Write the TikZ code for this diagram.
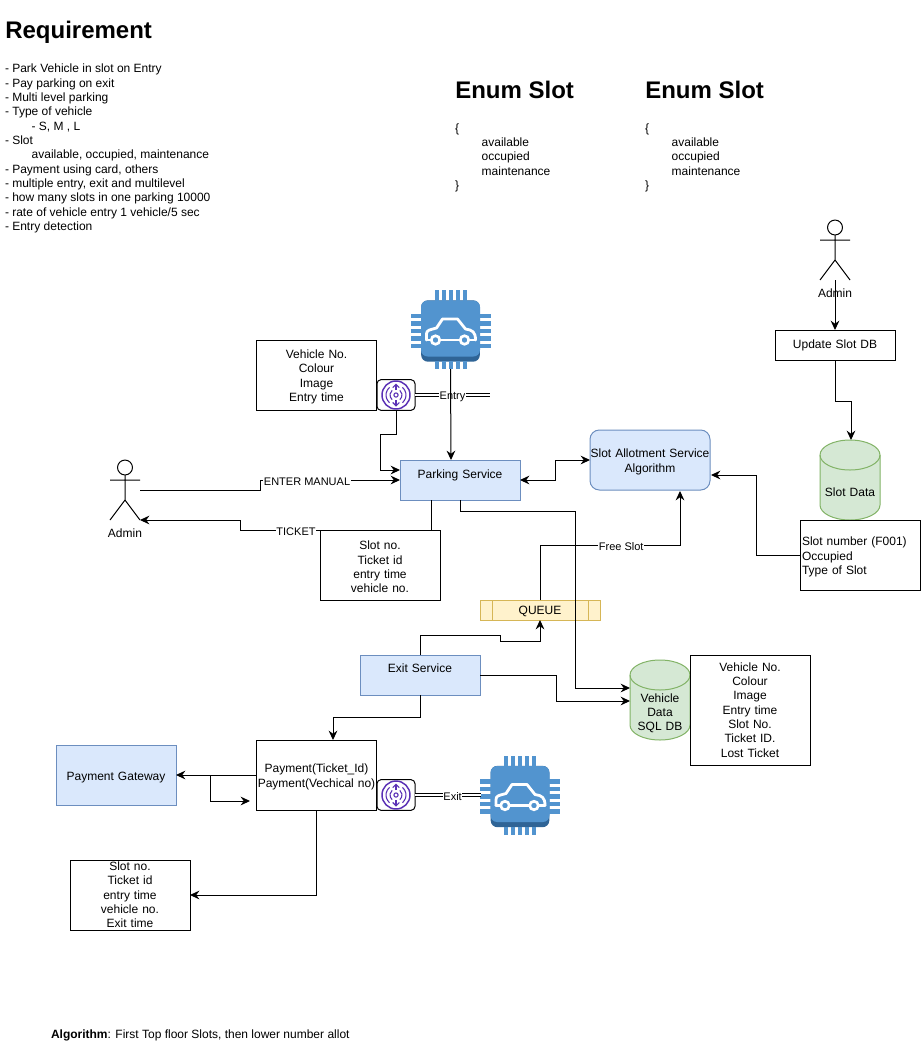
\documentclass[tikz,border=0pt]{standalone}
\usepackage{fontspec}
\setmainfont{Liberation Sans}
\usetikzlibrary{arrows.meta,calc}
\definecolor{bluefill}{HTML}{DAE8FC}
\definecolor{blueline}{HTML}{6C8EBF}
\definecolor{greenfill}{HTML}{D5E8D4}
\definecolor{greenline}{HTML}{82B366}
\definecolor{queuefill}{HTML}{FFF2CC}
\definecolor{queueline}{HTML}{D6B656}
\definecolor{chipblue}{HTML}{5294CF}
\definecolor{chipdark}{HTML}{2F6496}
\definecolor{rfidpurple}{HTML}{5A30B5}
\newcommand{\boxtop}{9.5pt}
\tikzset{
	txt/.style={font=\fontsize{9}{10.75}\selectfont,inner sep=0pt,outer sep=0pt},
	toprule/.code={\def\boxtop{#1}},
	box/.style={txt,draw=black,fill=white,line width=.75pt,align=center,text width=90pt,minimum width=90pt,minimum height=52.5pt,execute at begin node={\rule{0pt}{\boxtop}}},
	service/.style={box,draw=blueline,fill=bluefill},
	drumtxt/.style={txt,align=center,text width=45pt,minimum width=45pt,minimum height=60pt,execute at begin node={\rule{0pt}{\boxtop}}},
	conn/.style={draw=black,line width=.75pt,-{Stealth[length=7pt,width=6.5pt]}},
	plain/.style={draw=black,line width=.75pt},
	link/.style={draw=black,double=white,double distance=1.1pt,line width=.75pt},
	edgetxt/.style={font=\fontsize{8.25}{10}\selectfont,fill=white,inner sep=.5pt,execute at begin node={\rule{0pt}{8pt}}},
	heading/.style={font=\bfseries\fontsize{18}{21}\selectfont,inner sep=0pt,anchor=base west},
	chipbody/.style={fill=chipdark,rounded corners=5pt,minimum width=44pt,minimum height=46pt,inner sep=0pt,outer sep=0pt},
	rfidbox/.style={draw=black,fill=white,rounded corners=3pt,line width=.75pt,minimum width=28.5pt,minimum height=23pt,inner sep=0pt,outer sep=0pt},
	actorbox/.style={minimum width=22.5pt,minimum height=45pt,inner sep=0pt,outer sep=0pt},
	actorline/.style={draw=black,line width=.75pt},
	drum/.pic={
		\filldraw[draw=greenline,fill=greenfill,line width=.75pt] (-30,-25) -- (-30,25) arc[start angle=180,end angle=0,x radius=30,y radius=15] -- (30,-25) arc[start angle=0,end angle=-180,x radius=30,y radius=15] -- cycle;
		\draw[draw=greenline,line width=.75pt] (-30,-25) arc[start angle=180,end angle=0,x radius=30,y radius=15];
	},
	chip/.pic={
		\foreach \i in {-2,...,2}
		{
			\fill[chipblue] (7*\i-2,-41) rectangle (7*\i+2,-30);
			\fill[chipblue] (7*\i-2,30) rectangle (7*\i+2,38);
			\fill[chipblue] (-40,7.5*\i-2.2) rectangle (-29,7.5*\i+2.2);
			\fill[chipblue] (29,7.5*\i-2.2) rectangle (40,7.5*\i+2.2);
		}
		\fill[chipblue,rounded corners=5pt] (-29.5,-30.5) rectangle (29.5,25.5);
		\draw[white,line width=2.1pt,line join=round,line cap=round] (-24,9) -- (-24,3) .. controls (-24,-1) and (-21,-1) .. (-14,-3) -- (-8,-12) -- (7,-12) -- (15,-2) .. controls (22,-1) and (25,1) .. (25,9);
		\draw[white,line width=2.1pt,line cap=round] (-24,9) -- (-20,9) (-10,9) -- (9,9) (19,9) -- (25,9);
		\draw[white,line width=2pt,fill=chipblue] (-15,9) circle (3.2pt);
		\draw[white,line width=2pt,fill=chipblue] (14,9) circle (3.2pt);
	},
	rfidmark/.pic={
		\draw[rfidpurple,line width=1.1pt] (0,0) circle (10.5pt);
		\draw[rfidpurple,line width=.8pt] (0,0) circle (1.6pt);
		\draw[rfidpurple,line width=.8pt] (130:6) arc (130:230:6) (50:6) arc (50:-50:6);
		\draw[rfidpurple,line width=.8pt] (130:10) arc (130:230:10) (50:10) arc (50:-50:10);
		\draw[rfidpurple,line width=.8pt,-{Straight Barb[length=2.5pt,width=5pt]}] (0,-5) -- (0,-11.5);
		\draw[rfidpurple,line width=.8pt,-{Straight Barb[length=2.5pt,width=5pt]}] (0,5) -- (0,11.5);
	},
	actor/.pic={
		\draw[actorline] (0,-22.5) circle (5.6pt);
		\draw[actorline] (0,-15) -- (0,10) (-15,-10) -- (15,-10) (-15,30) -- (0,10) -- (15,30);
	}
}
\begin{document}
\begin{tikzpicture}[x=.75pt,y=-.75pt]
	\useasboundingbox (0,0) rectangle (921,1050);
	\fill[white] (0,0) rectangle (921,1050);

	% notes
	\node[heading] (reqhead) at (5,38) {Requirement};
	\node[txt,anchor=north west,align=left] (reqtext) at (5,64) {- Park Vehicle in slot on Entry\\- Pay parking on exit\\- Multi level parking\\- Type of vehicle\\\hspace*{20pt}- S, M , L\\- Slot\\\hspace*{20pt}available, occupied, maintenance\\- Payment using card, others\\- multiple entry, exit and multilevel\\- how many slots in one parking 10000\\- rate of vehicle entry 1 vehicle/5 sec\\- Entry detection};
	\node[heading] (enumheada) at (455,98) {Enum Slot};
	\node[txt,anchor=north west,align=left] (enumtexta) at (455,123.5) {\{\\\hspace*{20pt}available\\\hspace*{20pt}occupied\\\hspace*{20pt}maintenance\\\}};
	\node[heading] (enumheadb) at (645,98) {Enum Slot};
	\node[txt,anchor=north west,align=left] (enumtextb) at (645,123.5) {\{\\\hspace*{20pt}available\\\hspace*{20pt}occupied\\\hspace*{20pt}maintenance\\\}};
	\node[txt,anchor=west] (algotext) at (51,1035) {\textbf{Algorithm}: First Top floor Slots, then lower number allot};

	% entry side
	\node[box] (vehiclein) at (316.5,375) {Vehicle No.\\Colour\\Image\\Entry time};
	\node[rfidbox] (rfidin) at (396,395) {};
	\pic at (396,395) {rfidmark};
	\node[chipbody] (chipin) at (450.5,331) {};
	\pic at (450.5,331) {chip};
	\node[service,minimum height=30pt] (parking) at (460,480) {Parking Service\\[1pt] \mbox{}};
	\node[service,rounded corners=7pt,minimum height=45pt] (allot) at (650,460) {Slot Allotment Service\\Algorithm};
	\node[box] (ticketin) at (380,565) {Slot no.\\Ticket id\\entry time\\vehicle no.};
	\node[actorbox] (adminin) at (125,490) {};
	\pic at (125,490) {actor};
	\node[txt,anchor=center] (adminintxt) at (125,533.5) {Admin};

	% slot side
	\node[actorbox] (adminslot) at (835,250) {};
	\pic at (835,250) {actor};
	\node[box,toprule=0pt,minimum height=22.5pt] (update) at (835,345) {Update Slot DB};
	\pic at (850,480) {drum};
	\node[drumtxt,toprule=24.5pt] (slotdb) at (850,480) {Slot Data};
	\node[box,text width=87pt,align=left] (slotinfo) at (860,555) {Slot number (F001)\\Occupied\\Type of Slot};

	% exit side
	\node[box,toprule=8pt,draw=queueline,fill=queuefill,minimum height=15pt] (queue) at (540,610) {QUEUE};
	\draw[draw=queueline,line width=.75pt] ([xshift=9pt]queue.north west) -- ([xshift=9pt]queue.south west) ([xshift=-9pt]queue.north east) -- ([xshift=-9pt]queue.south east);
	\node[service,minimum height=30pt] (exit) at (420,675) {Exit Service\\[2pt] \mbox{}};
	\pic at (660,700) {drum};
	\node[drumtxt,toprule=26.5pt] (vehicledb) at (660,700) {Vehicle\\Data\\SQL DB};
	\node[box,toprule=0pt,minimum height=82.5pt] (vehicleinfo) at (750,710) {Vehicle No.\\Colour\\Image\\Entry time\\Slot No.\\Ticket ID.\\Lost Ticket};
	\node[service,minimum height=45pt] (gateway) at (116,775) {Payment Gateway};
	\node[box] (payment) at (316.5,775) {Payment(Ticket\_Id)\\Payment(Vechical no)};
	\node[rfidbox] (rfidout) at (396,795) {};
	\pic at (396,795) {rfidmark};
	\node[chipbody] (chipout) at (520,796.5) {};
	\pic at (520,796.5) {chip};
	\node[box,toprule=0pt] (ticketout) at (130,895) {Slot no.\\Ticket id\\entry time\\vehicle no.\\Exit time};

	% free ends
	\coordinate (entryend) at (490,395);
	\coordinate (exitend) at (481,795);
	\coordinate (parkingin) at (451,460);
	\coordinate (chipinbottom) at (450.5,369);
	\coordinate (paymentin) at (250,801);

	% connectors
	\draw[link] (rfidin.east) -- node[edgetxt,pos=.5] (entrytxt) {Entry} (entryend);
	\draw[conn] (chipinbottom) -- (parkingin);
	\draw[conn] (rfidin.south) -- ++(0,24) -| (380,470) -- (400,470);
	\draw[conn] (adminin.east) -- (260,490) |- node[edgetxt,pos=.668] (manualtxt) {ENTER MANUAL} (parking.west);
	\draw[conn] (ticketin.north west) -- node[edgetxt,pos=.3] (tickettxt) {TICKET} (240,530) |- (adminin.south east);
	\draw[plain] (431,500) -- (431,530);
	\draw[conn,{Stealth[length=7pt,width=6.5pt]}-{Stealth[length=7pt,width=6.5pt]}] (parking.east) -- ++(35,0) |- (allot.west);
	\draw[conn] (parking.south) |- (575,511) |- ([yshift=9pt]vehicledb.west);
	\draw[conn] (queue.north) |- node[edgetxt,pos=.79] (freetxt) {Free Slot} (680,545) -- (680,491);
	\draw[conn] (exit.north) |- (500,635) |- (540,641) -- (queue.south);
	\draw[conn] (exit.east) -| (556,701) -- ([yshift=-.75pt]vehicledb.west);
	\draw[conn] (exit.south) |- (333,717) -- (333,740);
	\draw[conn] (payment.west) -- (gateway.east);
	\draw[conn] (210,775) |- (paymentin);
	\draw[conn] (payment.south) |- (ticketout.east);
	\draw[link] (rfidout.east) -- node[edgetxt,pos=.57] (exittxt) {Exit} (exitend);
	\draw[conn] (adminslot.south) -- (update.north);
	\node[txt,anchor=center] (adminslottxt) at (835,293.5) {Admin};
	\draw[conn] (update.south) |- (851,401) -- ([xshift=.75pt]slotdb.north);
	\draw[conn] (slotinfo.west) -| (756,475) -- (711,475);
\end{tikzpicture}
\end{document}
